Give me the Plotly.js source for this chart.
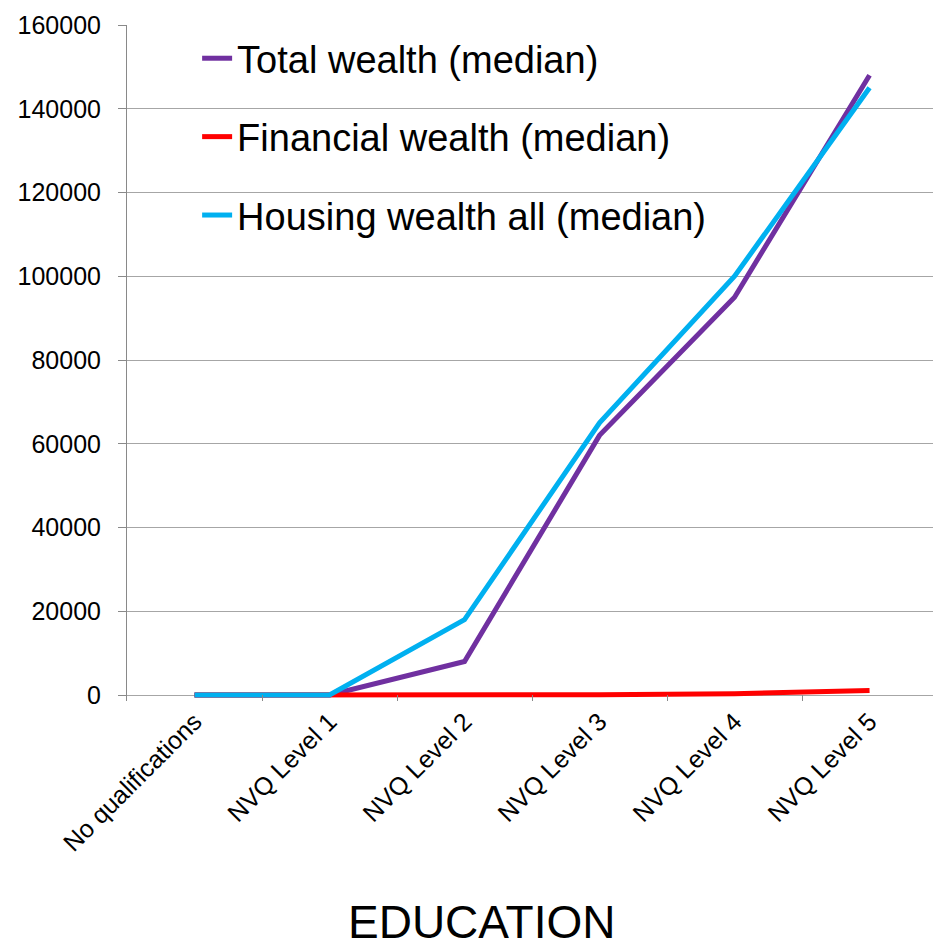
<!DOCTYPE html>
<html>
<head>
<meta charset="utf-8">
<script src="https://cdn.plot.ly/plotly-3.0.1.min.js"></script>
<style>html,body{margin:0;padding:0;background:#fff;}#chart{width:933px;height:947px;}</style>
</head>
<body>
<div id="chart"></div>
<script>
const categories = ["No qualifications", "NVQ Level 1", "NVQ Level 2", "NVQ Level 3", "NVQ Level 4", "NVQ Level 5"];
const totalWealth = [0, 0, 8000, 62000, 95000, 148000];
const financialWealth = [0, 0, 0, 50, 300, 1100];
const housingWealth = [0, 0, 18000, 65000, 100000, 145000];
const seriesNames = ["Total wealth (median)", "Financial wealth (median)", "Housing wealth all (median)"];
const yTicks = [0, 20000, 40000, 60000, 80000, 100000, 120000, 140000, 160000];
const xTitle = "EDUCATION";

const FONT = "Liberation Sans, Arial, sans-serif";
const mk = (y, name, color, g) => ({
  type: "scatter", mode: "lines", x: categories, y: y, name: name,
  legendgroup: g, line: {color: color, width: 5}
});
const traces = [
  mk(totalWealth, seriesNames[0], "#7030A0", "a"),
  mk(financialWealth, seriesNames[1], "#FF0000", "b"),
  mk(housingWealth, seriesNames[2], "#00B0F0", "c")
];
const layout = {
  width: 933, height: 947,
  margin: {l: 127, r: 0, t: 25, b: 246},
  paper_bgcolor: "#fff", plot_bgcolor: "#fff",
  font: {family: FONT, color: "#000"},
  showlegend: true,
  legend: {
    x: 0.087, y: 0.997, xanchor: "left", yanchor: "top",
    font: {size: 38, family: FONT, color: "#000"},
    bgcolor: "rgba(0,0,0,0)", tracegroupgap: 26, traceorder: "grouped"
  },
  xaxis: {
    type: "category", range: [-0.5, 5.47],
    tickson: "boundaries", ticks: "inside", ticklen: 6, tickcolor: "#898989",
    showline: false, showgrid: false, zeroline: false,
    tickangle: -45, tickfont: {size: 25, family: FONT, color: "#000"}
  },
  yaxis: {
    range: [-1433, 160000], tickvals: yTicks, ticktext: yTicks.map(String),
    ticks: "outside", ticklen: 8, tickcolor: "#898989",
    showline: true, linecolor: "#898989", linewidth: 1,
    showgrid: true, gridcolor: "#A6A6A6", gridwidth: 1,
    zeroline: true, zerolinecolor: "#A6A6A6", zerolinewidth: 1,
    ticklabelstandoff: 12,
    tickfont: {size: 25, family: FONT, color: "#000"}
  },
  annotations: [{
    text: xTitle, xref: "paper", yref: "paper", x: 0.44, y: -0.368,
    xanchor: "center", yanchor: "bottom", showarrow: false,
    font: {size: 46, family: FONT, color: "#000"}
  }]
};
Plotly.newPlot("chart", traces, layout, {displayModeBar: false, staticPlot: true});
</script>
</body>
</html>
